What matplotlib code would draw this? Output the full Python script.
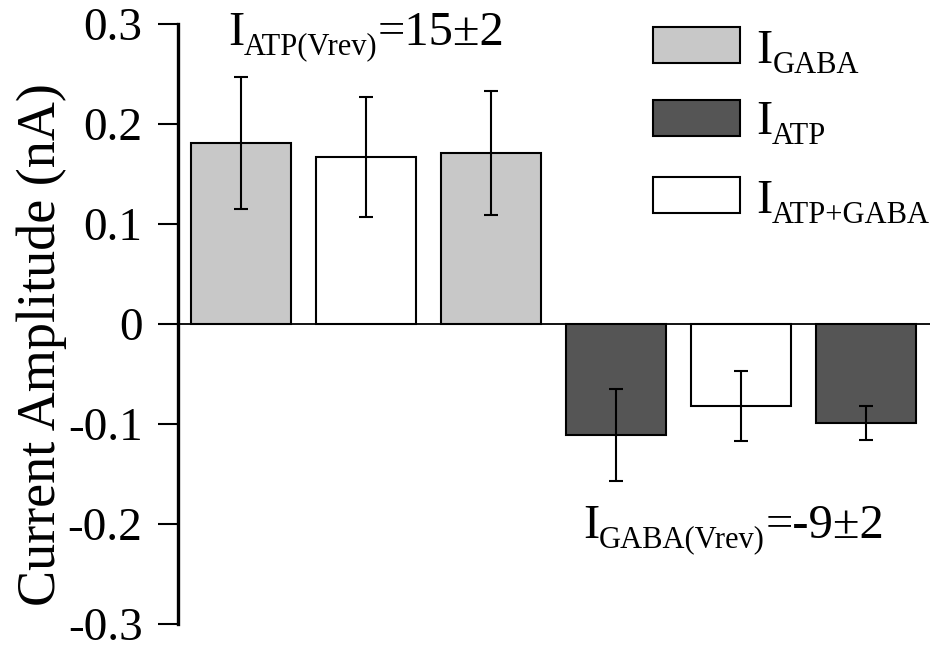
import matplotlib.pyplot as plt
from matplotlib.patches import Rectangle

plt.rcParams['font.family'] = 'Liberation Serif'

# data
values = [0.181, 0.167, 0.171, -0.111, -0.082, -0.099]
errors = [0.066, 0.060, 0.062, 0.046, 0.035, 0.017]
groups = ['GABA', 'ATP+GABA', 'GABA', 'ATP', 'ATP+GABA', 'ATP']
colors = {'GABA': '#c8c8c8', 'ATP': '#555555', 'ATP+GABA': '#ffffff'}
legend_keys = ['GABA', 'ATP', 'ATP+GABA']
yticks = [-0.3, -0.2, -0.1, 0, 0.1, 0.2, 0.3]
ytick_labels = ['-0.3', '-0.2', '-0.1', '0', '0.1', '0.2', '0.3']

W, H = 935, 653
BIG, SMALL = 35, 22

fig = plt.figure(figsize=(W / 100, H / 100), dpi=100)
ax = fig.add_axes([178 / W, 29 / H, 752 / W, 600 / H])

x = list(range(len(values)))
ax.bar(x, values, width=0.8, color=[colors[g] for g in groups],
       edgecolor='black', linewidth=1.5, zorder=2)
ax.errorbar(x, values, yerr=errors, fmt='none', ecolor='black',
            elinewidth=1.5, capsize=5, capthick=1.5, zorder=3)

ax.axhline(0, color='black', lw=1.3, zorder=4)
ax.set_xlim(-0.504, 5.512)
ax.set_ylim(-0.3, 0.3)
ax.set_yticks(yticks)
ax.set_yticklabels(ytick_labels, fontsize=34)
ax.tick_params(axis='y', length=14.5, width=1.5, pad=11)
ax.set_xticks([])
for s in ['top', 'right', 'bottom']:
    ax.spines[s].set_visible(False)
ax.spines['left'].set_linewidth(2.4)
ax.set_ylabel('Current Amplitude (nA)', fontsize=39)
ax.yaxis.set_label_coords((67 - 178) / 752, 0.465)

renderer = fig.canvas.get_renderer()


def rich(px, baseline, parts):
    # parts: (text, size, drop in px); px/baseline in pixels from top-left
    for s, size, dy in parts:
        t = fig.text(px / W, 1 - (baseline + dy) / H, s, fontsize=size,
                     ha='left', va='baseline')
        px = t.get_window_extent(renderer).x1


rich(228, 45, [('I', BIG, 0), ('ATP(Vrev)', SMALL, 9), ('=15±2', BIG, 0)])
rich(583, 538, [('I', BIG, 0), ('GABA(Vrev)', SMALL, 9), ('=-9±2', BIG, 0)])

# legend
legend_subs = ['GABA', 'ATP', 'ATP+GABA']
rows_top = [27, 100, 177]
rows_base = [63, 134, 213]
for key, sub, ytop, yb in zip(legend_keys, legend_subs, rows_top, rows_base):
    fig.patches.append(Rectangle((653 / W, 1 - (ytop + 36) / H), 87 / W, 36 / H,
                                 facecolor=colors[key], edgecolor='black', lw=1.5,
                                 transform=fig.transFigure))
    rich(756, yb, [('I', BIG, 0), (sub, SMALL, 10)])

fig.savefig('out.png', dpi=100)
